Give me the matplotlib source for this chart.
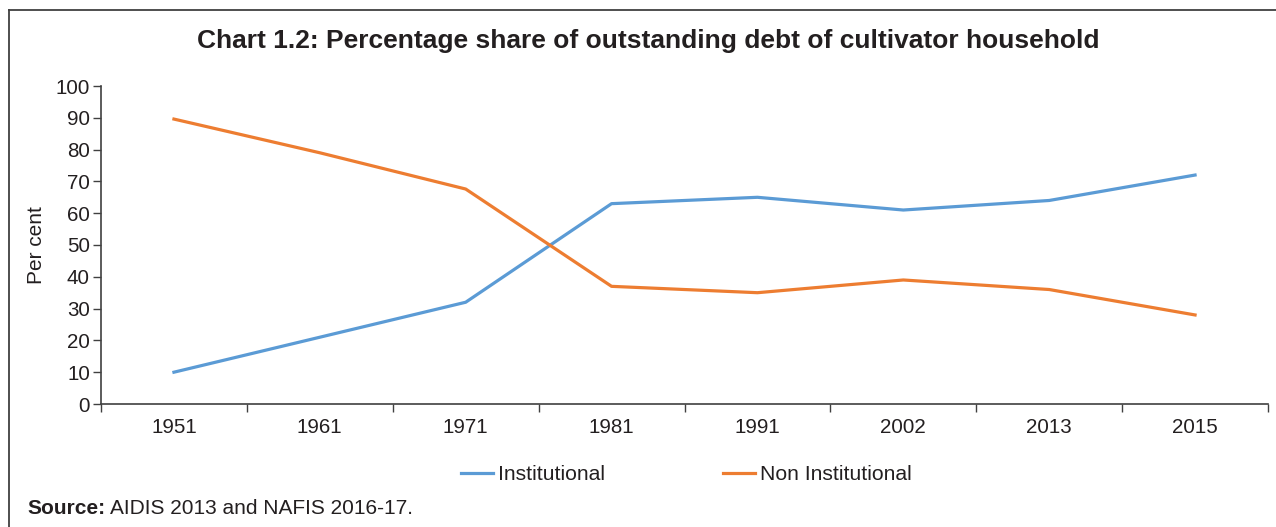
import matplotlib
matplotlib.use("Agg")
import matplotlib.pyplot as plt
from matplotlib.lines import Line2D

plt.rcParams['font.family'] = ['Liberation Sans', 'DejaVu Sans']

years = ["1951", "1961", "1971", "1981", "1991", "2002", "2013", "2015"]
institutional = [10, 21, 32, 63, 65, 61, 64, 72]
non_institutional = [89.6, 79, 67.6, 37, 35, 39, 36, 28]
series_names = ["Institutional", "Non Institutional"]
colors = ["#5B9BD5", "#ED7D31"]
yticks = list(range(0, 101, 10))

W, H = 1276, 527
fig = plt.figure(figsize=(W/100, H/100), dpi=100)
ax = fig.add_axes([101/W, 1-404/H, (1268-101)/W, (404-86)/H])

x = list(range(len(years)))
ax.plot(x, institutional, color=colors[0], lw=2.3, solid_joinstyle='round', label=series_names[0])
ax.plot(x, non_institutional, color=colors[1], lw=2.3, solid_joinstyle='round', label=series_names[1])

ax.set_xlim(-0.5, len(years)-0.5)
ax.set_ylim(0, 100)
ax.set_yticks(yticks)
ax.set_yticklabels([str(v) for v in yticks])
ax.set_xticks(x)
ax.set_xticklabels(years)
ax.set_xticks([i-0.5 for i in range(len(years)+1)], minor=True)
ax.tick_params(axis='x', which='major', length=0, pad=10)
ax.tick_params(axis='x', which='minor', length=6, width=1, color='#404040', direction='out')
ax.tick_params(axis='y', length=6, width=1, color='#404040', direction='out', pad=2)
ax.tick_params(labelsize=14.8, labelcolor='#231F20')
for s in ['top', 'right']:
    ax.spines[s].set_visible(False)
for s in ['left', 'bottom']:
    ax.spines[s].set_color('#404040')
    ax.spines[s].set_linewidth(1.2)

ax.set_ylabel("Per cent", fontsize=15, color='#231F20')
ax.yaxis.set_label_coords(-(101-36)/1167, 0.5)
ax.yaxis.label.set_va('center')

fig.text(648/W, 1-41/H, "Chart 1.2: Percentage share of outstanding debt of cultivator household",
         ha='center', va='center', fontsize=19, fontweight='bold', color='#231F20')

handles = [Line2D([], [], color=c, lw=2.3) for c in colors]
leg = fig.legend(handles, series_names, loc='center', bbox_to_anchor=(686/W, 1-475/H),
                 ncol=2, frameon=False, fontsize=15.2, handlelength=1.55, handletextpad=0.2,
                 columnspacing=5.6)
for t in leg.get_texts():
    t.set_color('#231F20')

fig.text(27/W, 1-509/H, "Source:", ha='left', va='center', fontsize=15, fontweight='bold',
         color='#231F20')
fig.text(110/W, 1-509/H, "AIDIS 2013 and NAFIS 2016-17.", ha='left', va='center',
         fontsize=15, color='#231F20')

# outer frame (left and top)
fig.add_artist(Line2D([9/W, 9/W], [0, 1-10/H], transform=fig.transFigure, color='#404040', lw=1.3))
fig.add_artist(Line2D([9/W, 1], [1-10/H, 1-10/H], transform=fig.transFigure, color='#404040', lw=1.3))

fig.savefig("out.png", dpi=100)
